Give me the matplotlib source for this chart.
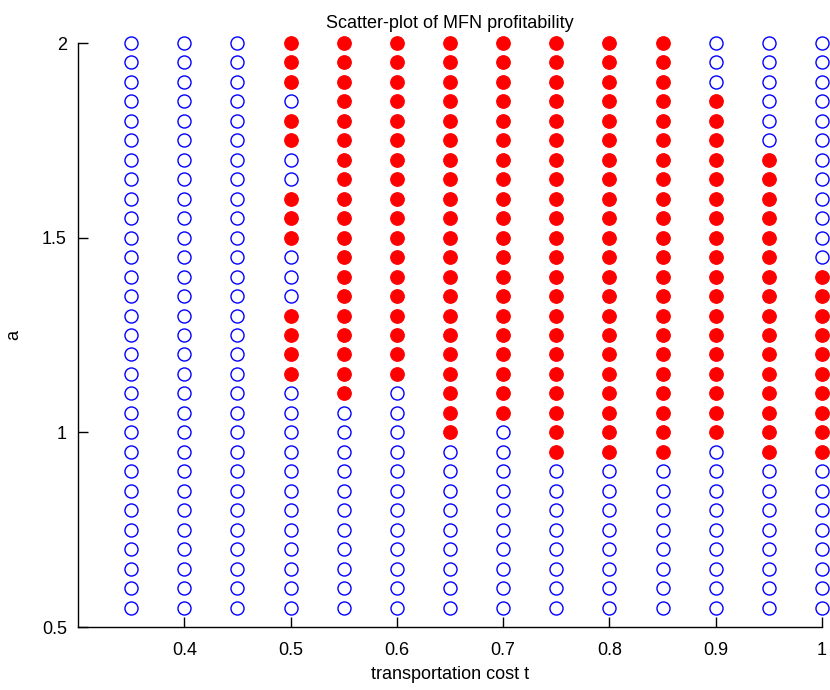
import matplotlib
matplotlib.use("Agg")
import matplotlib.pyplot as plt
import numpy as np

# transportation cost columns
t_values = [0.35, 0.40, 0.45, 0.50, 0.55, 0.60, 0.65, 0.70, 0.75, 0.80, 0.85, 0.90, 0.95, 1.00]
# a values from top (2.0) to bottom (0.55)
a_values = [2.00, 1.95, 1.90, 1.85, 1.80, 1.75, 1.70, 1.65, 1.60, 1.55,
            1.50, 1.45, 1.40, 1.35, 1.30, 1.25, 1.20, 1.15, 1.10, 1.05,
            1.00, 0.95, 0.90, 0.85, 0.80, 0.75, 0.70, 0.65, 0.60, 0.55]
# profitability mask per column, one char per a value (top to bottom), 1 = profitable
profitable = [
    "000000000000000000000000000000",  # 0.35
    "000000000000000000000000000000",  # 0.40
    "000000000000000000000000000000",  # 0.45
    "111011001110001111000000000000",  # 0.50
    "111111111111111111100000000000",  # 0.55
    "111111111111111111000000000000",  # 0.60
    "111111111111111111111000000000",  # 0.65
    "111111111111111111110000000000",  # 0.70
    "111111111111111111111100000000",  # 0.75
    "111111111111111111111100000000",  # 0.80
    "111111111111111111111100000000",  # 0.85
    "000111111111111111111000000000",  # 0.90
    "000000111111111111111100000000",  # 0.95
    "000000000000111111111100000000",  # 1.00
]

x_ticks = [0.4, 0.5, 0.6, 0.7, 0.8, 0.9, 1.0]
x_tick_labels = ["0.4", "0.5", "0.6", "0.7", "0.8", "0.9", "1"]
y_ticks = [0.5, 1.0, 1.5, 2.0]
y_tick_labels = ["0.5", "1", "1.5", "2"]

font = ["Liberation Sans Narrow", "Liberation Sans", "DejaVu Sans"]
plt.rcParams["font.family"] = font

fig = plt.figure(figsize=(8.3, 6.9), dpi=100)
ax = fig.add_axes([78 / 830, 1 - 627 / 690, (822 - 78) / 830, (627 - 43) / 690])

red_x, red_y, blue_x, blue_y = [], [], [], []
for t, mask in zip(t_values, profitable):
    for a, m in zip(a_values, mask):
        if m == "1":
            red_x.append(t)
            red_y.append(a)
        else:
            blue_x.append(t)
            blue_y.append(a)

ax.plot(blue_x, blue_y, linestyle="none", marker="o", markersize=9.4,
        markerfacecolor="none", markeredgecolor="#0000ff", markeredgewidth=1.0,
        clip_on=False)
ax.plot(red_x, red_y, linestyle="none", marker="o", markersize=9.8,
        markerfacecolor="#ff0000", markeredgecolor="#ff0000", markeredgewidth=0.8,
        clip_on=False)

ax.set_xlim(0.3, 1.0)
ax.set_ylim(0.5, 2.0)
ax.set_xticks(x_ticks)
ax.set_xticklabels(x_tick_labels)
ax.set_yticks(y_ticks)
ax.set_yticklabels(y_tick_labels)
ax.tick_params(direction="in", length=7, width=1, labelsize=13, colors="black")
ax.tick_params(axis="x", pad=11)
ax.tick_params(axis="y", pad=8)
for s in ["top", "right"]:
    ax.spines[s].set_visible(False)
for s in ["left", "bottom"]:
    ax.spines[s].set_linewidth(1.0)

ax.set_title("Scatter-plot of MFN profitability", fontsize=13, pad=11)
ax.set_xlabel("transportation cost t", fontsize=13, labelpad=5)
ax.set_ylabel("a", fontsize=13, labelpad=14)

fig.savefig("out.png", dpi=100)
